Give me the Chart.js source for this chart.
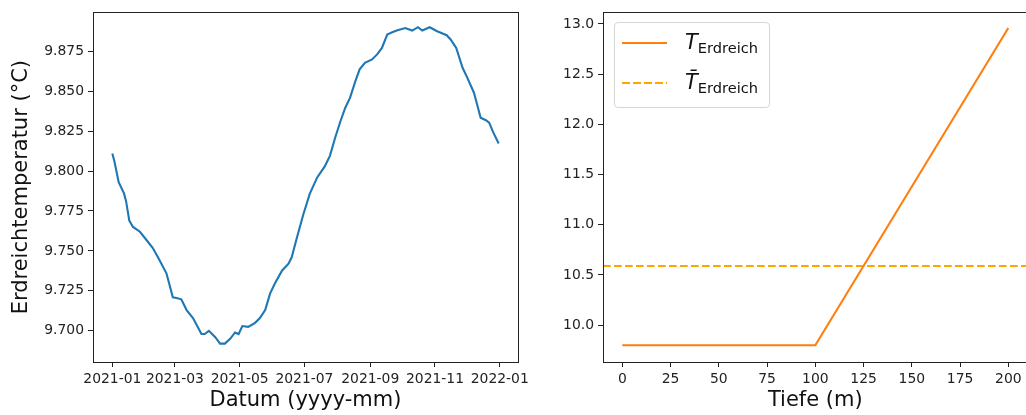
<!DOCTYPE html>
<html>
<head>
<meta charset="utf-8">
<script src="https://cdn.jsdelivr.net/npm/chart.js@4.4.0/dist/chart.umd.min.js"></script>
<style>
    html, body { margin: 0; padding: 0; background: #fff; overflow: hidden; }
    body { width: 1026px; height: 415px; position: relative; font-family: "DejaVu Sans", sans-serif; }
    .panel { position: absolute; top: 0; height: 415px; }
    #leftPanel { left: 0; width: 540px; }
    #rightPanel { left: 540px; width: 500px; }
    #legend {
        position: absolute; left: 74px; top: 22px; width: 156px; height: 86px;
        box-sizing: border-box; border: 1px solid #d6d6d6; border-radius: 4px;
        background: rgba(255, 255, 255, 0.8); color: #111;
    }
    #legend .item { height: 40px; display: flex; align-items: center; }
    #legend .sample { width: 45px; height: 2px; margin-left: 7px; margin-right: 18px; }
    #legend i { font-size: 21px; font-style: italic; }
    #legend sub { font-size: 14.6px; vertical-align: -4px; }
</style>
</head>
<body>
<div class="panel" id="leftPanel"><canvas id="tempChart"></canvas></div>
<div class="panel" id="rightPanel"><canvas id="depthChart"></canvas><div id="legend"></div></div>
<script>
// Left panel: soil temperature over 2021 (x = day since 2021-01-01)
const days = [0, 2, 6, 11, 13, 16, 19.5, 26, 32, 38, 43, 51, 57, 60.5, 65, 70, 76, 84, 87, 91, 97,
    101.5, 106, 111, 115.6, 119, 122.5, 128, 134.5, 139, 144, 148.6, 153, 160, 166, 169, 174, 180,
    186, 193, 200, 205, 210, 215, 219.5, 224, 229, 233, 238, 244.7, 249.5, 254, 259, 263.7, 268,
    276, 282.5, 288, 292, 299, 306, 315, 318.7, 324, 330, 334.5, 340.7, 347, 352, 355, 359, 364];
const soilTemp = [9.811, 9.806, 9.793, 9.786, 9.781, 9.769, 9.765, 9.762, 9.757, 9.752, 9.746,
    9.736, 9.721, 9.7206, 9.7197, 9.713, 9.708, 9.698, 9.698, 9.700, 9.696, 9.692, 9.692, 9.695,
    9.699, 9.698, 9.703, 9.7025, 9.705, 9.708, 9.713, 9.7233, 9.7295, 9.7378, 9.742, 9.746,
    9.7586, 9.773, 9.7857, 9.796, 9.8027, 9.8095, 9.821, 9.8313, 9.8396, 9.8459, 9.8563, 9.8636,
    9.8677, 9.8698, 9.873, 9.877, 9.8854, 9.8868, 9.8879, 9.8895, 9.8879, 9.890, 9.8879, 9.890,
    9.8875, 9.885, 9.8823, 9.877, 9.8646, 9.8583, 9.849, 9.8334, 9.8318, 9.8303, 9.824, 9.8172];
const dateTickDays = [0, 59, 120, 181, 243, 304, 365];
const dateTickLabels = ["2021-01", "2021-03", "2021-05", "2021-07", "2021-09", "2021-11", "2022-01"];
const tempTicks = [9.700, 9.725, 9.750, 9.775, 9.800, 9.825, 9.850, 9.875];

// Right panel: temperature over depth and its mean
const depth = [0, 100, 200];
const depthTemp = [9.80, 9.80, 12.96];
const meanTemp = 10.59;
const depthTicks = [0, 25, 50, 75, 100, 125, 150, 175, 200];
const depthTempTicks = [10.0, 10.5, 11.0, 11.5, 12.0, 12.5, 13.0];

Chart.defaults.font.family = "'DejaVu Sans', sans-serif";
Chart.defaults.color = "#222";
Chart.defaults.animation = false;

// matplotlib-like box around the plot area
const frame = {
    id: "frame",
    afterDraw(chart) {
        const { ctx, chartArea: a } = chart;
        ctx.save();
        ctx.strokeStyle = "#222";
        ctx.lineWidth = 1;
        ctx.strokeRect(Math.round(a.left) + 0.5, Math.round(a.top) + 0.5,
            Math.round(a.right - a.left), Math.round(a.bottom - a.top));
        ctx.restore();
    }
};

function axis(ticks, format, extra) {
    return Object.assign({
        type: "linear",
        border: { display: false },
        grid: { display: true, drawOnChartArea: false, drawTicks: true, tickLength: 5, color: "#222" },
        ticks: { font: { size: 13.9 }, color: "#222", padding: 4, maxRotation: 0, autoSkip: false,
            callback: format },
        afterBuildTicks: scale => { scale.ticks = ticks.map(v => ({ value: v })); }
    }, extra);
}

function title(text, padding) {
    return { display: true, text: text, color: "#111", font: { size: 21 }, padding: padding };
}

new Chart(document.getElementById("tempChart"), {
    type: "line",
    data: {
        datasets: [{
            label: "Erdreichtemperatur",
            data: days.map((d, i) => ({ x: d, y: soilTemp[i] })),
            borderColor: "#1f77b4",
            borderWidth: 2.1,
            pointRadius: 0,
            tension: 0
        }]
    },
    options: {
        responsive: true,
        maintainAspectRatio: false,
        layout: { padding: { left: 0, top: 11, right: 22, bottom: 0 } },
        plugins: { legend: { display: false }, tooltip: { enabled: false } },
        scales: {
            x: axis(dateTickDays, (v, i) => dateTickLabels[i], {
                min: -18.2, max: 382.2,
                title: title("Datum (yyyy-mm)", { top: 0, bottom: 2 }),
                afterFit: s => { s.height = 53; }
            }),
            y: axis(tempTicks, v => v.toFixed(3), {
                min: 9.6805, max: 9.8993,
                title: title("Erdreichtemperatur (°C)", { top: 9.4, bottom: 0 }),
                afterFit: s => { s.width = 93; }
            })
        }
    },
    plugins: [frame]
});

const depthChart = new Chart(document.getElementById("depthChart"), {
    type: "line",
    data: {
        datasets: [{
            label: "T_Erdreich",
            data: depth.map((d, i) => ({ x: d, y: depthTemp[i] })),
            borderColor: "#ff7f0e",
            borderWidth: 2.1,
            pointRadius: 0,
            tension: 0
        }, {
            label: "T\u0304_Erdreich",
            data: [{ x: -10, y: meanTemp }, { x: 210, y: meanTemp }],
            borderColor: "#ffa500",
            borderWidth: 2.1,
            borderDash: [7.7, 3.3],
            pointRadius: 0
        }]
    },
    options: {
        responsive: true,
        maintainAspectRatio: false,
        layout: { padding: { left: 0, top: 11, right: 12.4, bottom: 0 } },
        plugins: { legend: { display: false }, tooltip: { enabled: false } },
        scales: {
            x: axis(depthTicks, v => String(v), {
                min: -10, max: 210,
                title: title("Tiefe (m)", { top: 0, bottom: 2 }),
                afterFit: s => { s.height = 53; }
            }),
            y: axis(depthTempTicks, v => v.toFixed(1), {
                min: 9.633, max: 13.116,
                afterFit: s => { s.width = 63; }
            })
        }
    },
    plugins: [frame]
});

// HTML legend so the labels can carry a subscript
function buildLegend(chart, el) {
    chart.data.datasets.forEach(ds => {
        const row = document.createElement("div");
        row.className = "item";
        const sample = document.createElement("span");
        sample.className = "sample";
        if (ds.borderDash) {
            const [on, off] = ds.borderDash;
            sample.style.background = `repeating-linear-gradient(to right, ${ds.borderColor} 0 ${on}px, transparent ${on}px ${on + off}px)`;
        } else {
            sample.style.background = ds.borderColor;
        }
        const [main, sub] = ds.label.split("_");
        const text = document.createElement("span");
        text.innerHTML = `<i>${main}</i><sub>${sub}</sub>`;
        row.appendChild(sample);
        row.appendChild(text);
        el.appendChild(row);
    });
}
buildLegend(depthChart, document.getElementById("legend"));
</script>
</body>
</html>
